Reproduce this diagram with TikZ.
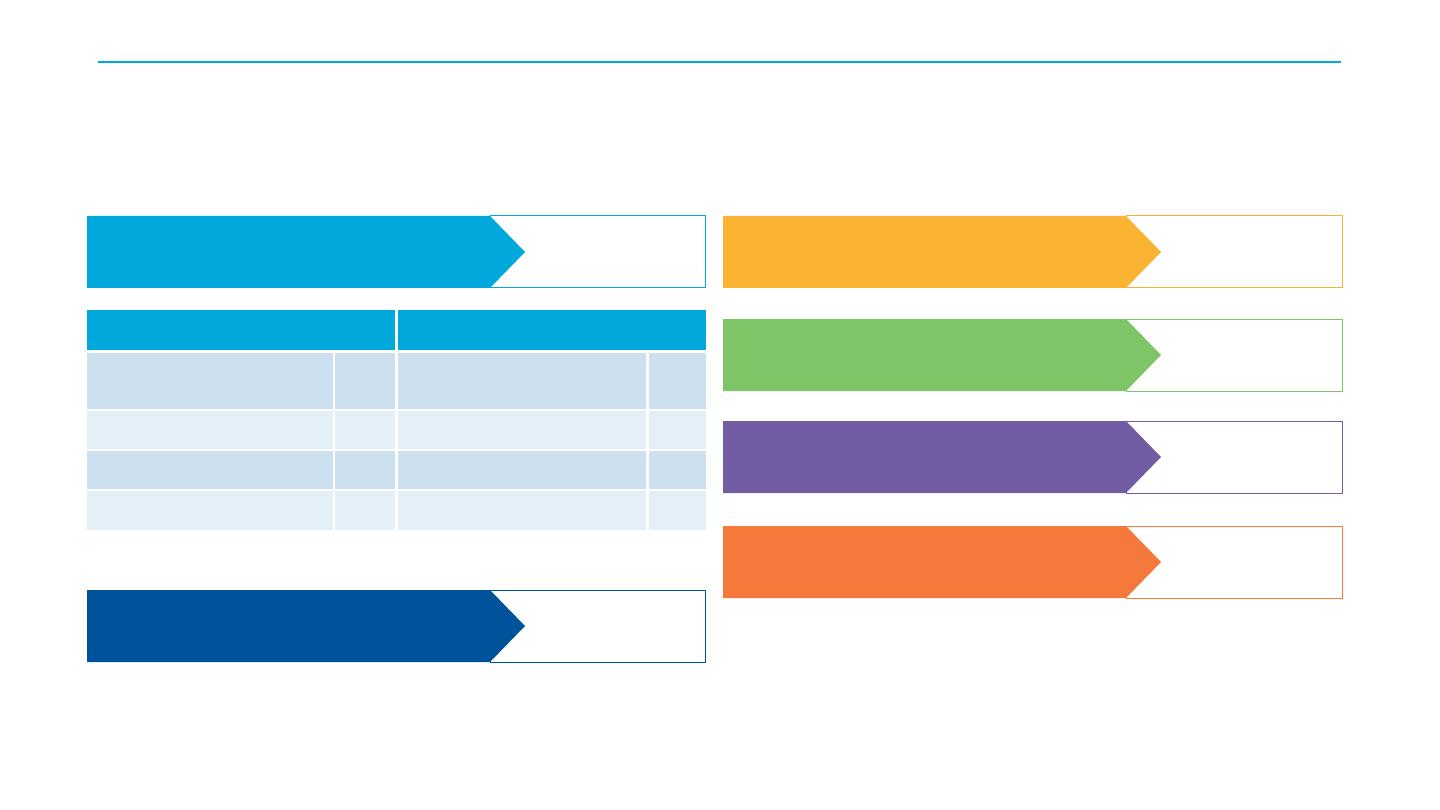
\documentclass[tikz,border=0pt]{standalone}
\usepackage{tikz}
\usetikzlibrary{positioning}

\definecolor{cyanblue}{RGB}{0,168,220}
\definecolor{darkblue}{RGB}{0,82,155}
\definecolor{yellowbar}{RGB}{251,179,52}
\definecolor{greenbar}{RGB}{125,197,102}
\definecolor{purplebar}{RGB}{114,92,164}
\definecolor{orangebar}{RGB}{245,121,59}
\definecolor{rowdark}{RGB}{204,224,240}
\definecolor{rowlight}{RGB}{229,239,248}

\begin{document}
\begin{tikzpicture}[x=1pt,y=-1pt,
			rule/.style={cyanblue, line width=1.5pt},
			frame/.style={line width=1pt},
			cellfill/.style={draw=none}]
			
			\useasboundingbox (0,0) rectangle (1440,810);
			
			\draw[rule](98,62)--(1341,62);
			
			\foreach \y/\c in {216/cyanblue, 590/darkblue}{
				\draw[frame,\c](490,\y) rectangle (705,\y+72);
				\fill[\c](87,\y)--(490,\y)--(525,\y+36)--(490,\y+72)--(87,\y+72)--cycle;
			}
			
			\foreach \y/\c in {216/yellowbar, 319/greenbar, 421/purplebar, 526/orangebar}{
				\draw[frame,\c](1126,\y) rectangle (1342,\y+72);
				\fill[\c](723,\y)--(1126,\y)--(1161,\y+36)--(1126,\y+72)--(723,\y+72)--cycle;
			}
			
			\fill[cyanblue](87,310) rectangle (395,350);
			
			\fill[cyanblue](397.5,310) rectangle (706,350);
			
			\foreach \ya/\yb/\c in {353/409/rowdark, 411/449/rowlight, 451/489/rowdark, 491/530/rowlight}
				\foreach \xa/\xb in {87/333, 335/395, 397.5/646, 648.5/706}
					\fill[cellfill,\c](\xa,\ya) rectangle (\xb,\yb);
			
		\end{tikzpicture}
\end{document}
